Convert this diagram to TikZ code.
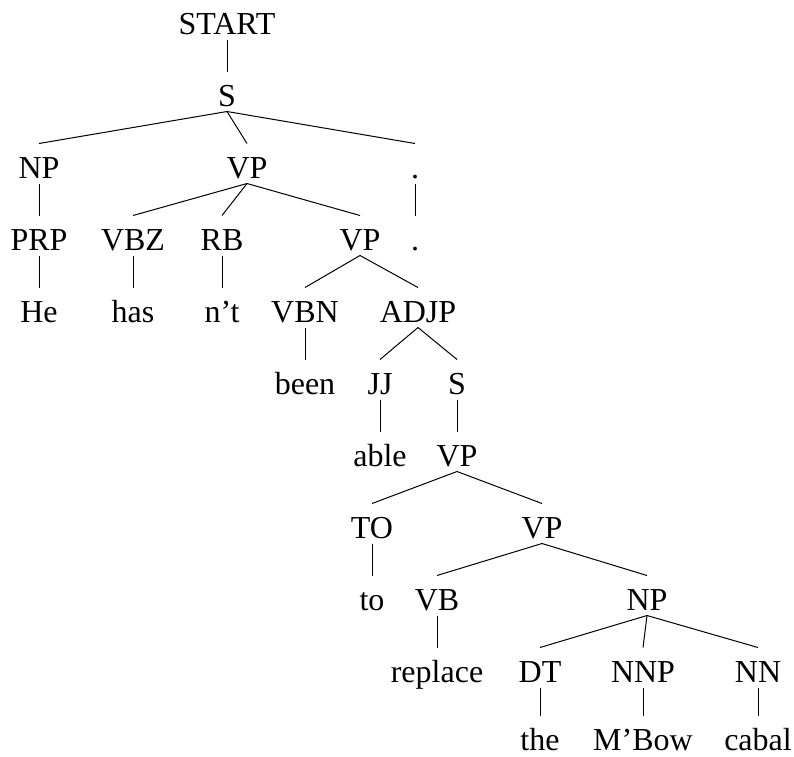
\documentclass[tikz,border=0pt]{standalone}
\usepackage{fontspec}
\setmainfont{Liberation Serif}

\tikzset{
    tag/.style={anchor=base, inner sep=0pt, text height=34pt, text depth=5pt,
        font=\fontsize{32}{38}\selectfont},
    word/.style={tag, text depth=0pt},
}

\begin{document}
\begin{tikzpicture}[x=1pt, y=-1pt, line width=1pt]
            \useasboundingbox (0, 0) rectangle (794, 756);

            \node[tag] (start) at (227, 34) {START};
            \node[tag] (s) at (227, 106) {S};

            \node[tag] (np) at (39, 178) {NP};
            \node[tag] (vp) at (247, 178) {VP};
            \node[tag] (dot) at (415, 178) {.};

            \node[tag] (prp) at (39, 250) {PRP};
            \node[tag] (vbz) at (133, 250) {VBZ};
            \node[tag] (rb) at (222, 250) {RB};
            \node[tag] (vp2) at (360, 250) {VP};
            \node[word] (dot2) at (415, 250) {.};

            \node[word] (he) at (39, 322) {He};
            \node[word] (has) at (133, 322) {has};
            \node[word] (nt) at (222, 322) {n't};
            \node[tag] (vbn) at (305, 322) {VBN};
            \node[tag] (adjp) at (418, 322) {ADJP};

            \node[word] (been) at (305, 394) {been};
            \node[tag] (jj) at (380, 394) {JJ};
            \node[tag] (s2) at (457, 394) {S};

            \node[word] (able) at (380, 466) {able};
            \node[tag] (vp3) at (457, 466) {VP};

            \node[tag] (totag) at (372, 538) {TO};
            \node[tag] (vp4) at (542, 538) {VP};

            \node[word] (toword) at (372, 610) {to};
            \node[tag] (vb) at (437, 610) {VB};
            \node[tag] (np2) at (647, 610) {NP};

            \node[word] (replace) at (437, 682) {replace};
            \node[tag] (dt) at (540, 682) {DT};
            \node[tag] (nnp) at (643, 682) {NNP};
            \node[tag] (nn) at (758, 682) {NN};

            \node[word] (the) at (540, 750) {the};
            \node[word] (mbow) at (643, 750) {M'Bow};
            \node[word] (cabal) at (758, 750) {cabal};

            \foreach \a/\b in {start/s, s/np, s/vp, s/dot, np/prp, vp/vbz, vp/rb, vp/vp2,
                dot/dot2, prp/he, vbz/has, rb/nt, vp2/vbn, vp2/adjp, vbn/been,
                adjp/jj, adjp/s2, jj/able, s2/vp3, vp3/totag, vp3/vp4, totag/toword,
                vp4/vb, vp4/np2, vb/replace, np2/dt, np2/nnp, np2/nn,
                dt/the, nnp/mbow, nn/cabal}
                {
                    \draw (\a.south) -- (\b.north);
                }
    \end{tikzpicture}
\end{document}
